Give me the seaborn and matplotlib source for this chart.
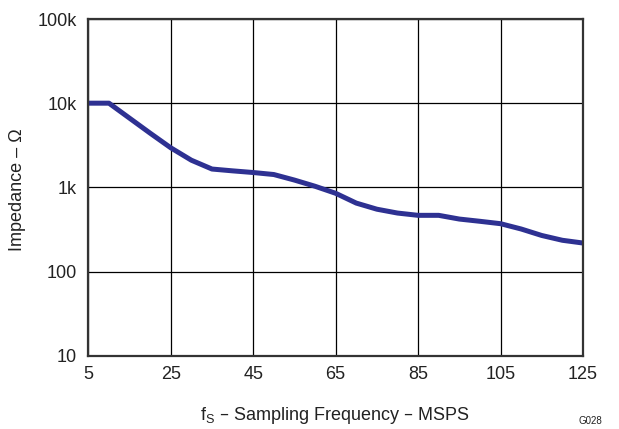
import matplotlib
matplotlib.use("Agg")
import matplotlib.pyplot as plt
import seaborn as sns
import pandas as pd

# ===============================
# DATA
# ===============================
freq_msps = [5, 10, 20, 25, 30, 35, 40, 45, 50, 55, 60, 65, 70, 75, 80, 85, 90,
             95, 100, 105, 110, 115, 120, 125]
impedance_ohm = [10000, 10000, 4400, 2950, 2100, 1650, 1570, 1500, 1420, 1220, 1030, 850, 650,
                 550, 495, 465, 465, 420, 395, 370, 320, 268, 235, 218]
x_ticks = [5, 25, 45, 65, 85, 105, 125]
y_ticks = [10, 100, 1000, 10000, 100000]
y_tick_labels = ["10", "100", "1k", "10k", "100k"]

df = pd.DataFrame({"freq": freq_msps, "imp": impedance_ohm})

# ===============================
# STYLE
# ===============================
sns.set_style("white")
plt.rcParams['font.family'] = ['Liberation Sans', 'DejaVu Sans']

fig = plt.figure(figsize=(6.19, 4.29), dpi=100)
ax = fig.add_axes([0.1427, 0.1709, 0.7991, 0.7848])

sns.lineplot(data=df, x="freq", y="imp", ax=ax, color="#2E3192", linewidth=3.6,
             solid_joinstyle="round", solid_capstyle="butt")

ax.set_yscale("log")
ax.set_xlim(5, 125)
ax.set_ylim(10, 100000)
ax.set_xticks(x_ticks)
ax.set_xticklabels([str(t) for t in x_ticks])
ax.set_yticks(y_ticks)
ax.set_yticklabels(y_tick_labels)
ax.minorticks_off()
ax.tick_params(axis="both", length=0, labelsize=13, colors="#222222")
ax.tick_params(axis="x", pad=7.5)
ax.tick_params(axis="y", pad=8.5)

ax.grid(True, color="black", linewidth=0.9)
for s in ax.spines.values():
    s.set_color("#333333")
    s.set_linewidth(1.6)

ax.set_xlabel("")
ax.set_ylabel("")
fig.text(0.541, 1 - 415 / 429, "f$_\\mathregular{S}$ – Sampling Frequency – MSPS",
         fontsize=13, ha="center", va="center", color="#222222")
fig.text(18 / 619, 1 - 190 / 429, "Impedance – Ω", fontsize=13, rotation=90,
         ha="center", va="center", color="#222222")
fig.text(0.953, 0.006, "G028", fontsize=7, ha="center", va="bottom", color="#222222")

fig.savefig("out.png", dpi=100)
